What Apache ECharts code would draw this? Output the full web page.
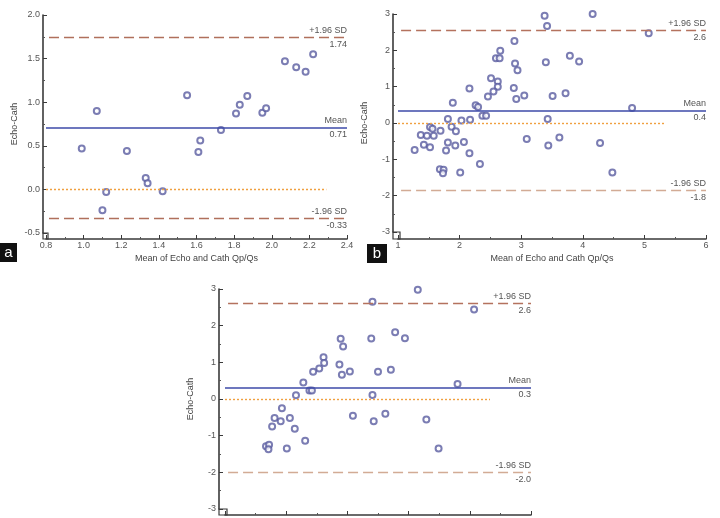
<!DOCTYPE html>
<head>
    <meta charset="utf-8">
    <title>Bland-Altman Echo vs Cath</title>
    <script src="https://cdn.jsdelivr.net/npm/echarts@6/dist/echarts.min.js"></script>
    <style>
        html, body { margin: 0; padding: 0; background: #fff; }
        #main { width: 720px; height: 518px; }
    </style>
</head>
<body>
    <div id="main"></div>
    <script type="text/javascript">
        // panel a: mean of Echo and Cath Qp/Qs vs difference
        var aMean = [0.99, 1.07, 1.10, 1.12, 1.23, 1.33, 1.34, 1.42, 1.55, 1.61, 1.62, 1.73, 1.81, 1.83, 1.87, 1.95, 1.97, 2.07, 2.13, 2.18, 2.22];
        var aDiff = [0.47, 0.90, -0.24, -0.03, 0.44, 0.13, 0.07, -0.02, 1.08, 0.43, 0.56, 0.68, 0.87, 0.97, 1.07, 0.88, 0.93, 1.47, 1.40, 1.35, 1.55];
        // panel b
        var bMean = [3.38, 4.16, 3.42, 5.07, 2.89, 2.66, 2.59, 2.65, 2.90, 2.94, 3.40, 3.79, 3.94, 2.51, 2.62,
                     2.62, 2.55, 2.46, 2.16, 2.88, 2.92, 3.05, 3.51, 3.72, 1.89, 2.26, 2.30, 2.37, 2.43, 4.80,
                     3.43, 2.03, 2.17, 1.81, 1.87, 1.94, 1.52, 1.56, 1.37, 1.47, 1.58, 1.69, 1.42, 1.52, 1.27,
                     1.81, 1.93, 2.07, 1.78, 2.16, 2.33, 1.68, 1.74, 1.73, 2.01, 3.09, 3.44, 3.62, 4.28, 4.48];
        var bDiff = [2.95, 3.00, 2.67, 2.47, 2.26, 1.99, 1.78, 1.78, 1.64, 1.45, 1.67, 1.85, 1.69, 1.23, 1.14,
                     1.00, 0.87, 0.73, 0.95, 0.96, 0.66, 0.76, 0.74, 0.82, 0.56, 0.49, 0.44, 0.20, 0.20, 0.41,
                     0.11, 0.07, 0.09, 0.11, -0.10, -0.23, -0.11, -0.16, -0.33, -0.35, -0.35, -0.21, -0.60, -0.67, -0.74,
                     -0.54, -0.62, -0.52, -0.76, -0.83, -1.13, -1.27, -1.29, -1.38, -1.36, -0.44, -0.62, -0.40, -0.55, -1.36];
        // panel c
        var cMean = [4.15, 3.41, 5.07, 2.89, 2.93, 3.39, 3.78, 3.94, 2.61, 2.62, 2.54, 2.44, 2.87, 2.91, 3.04,
                     3.50, 3.71, 2.28, 2.38, 2.42, 4.80, 3.41, 2.16, 1.93, 1.81, 1.91, 2.06, 1.77, 2.14, 2.31,
                     1.67, 1.72, 1.71, 2.01, 3.09, 3.43, 3.62, 4.29, 4.49];
        var cDiff = [2.98, 2.65, 2.44, 1.64, 1.43, 1.65, 1.82, 1.66, 1.14, 0.98, 0.83, 0.74, 0.94, 0.66, 0.75,
                     0.74, 0.80, 0.45, 0.23, 0.23, 0.41, 0.11, 0.10, -0.25, -0.52, -0.61, -0.52, -0.75, -0.81, -1.14,
                     -1.29, -1.25, -1.37, -1.35, -0.46, -0.61, -0.40, -0.56, -1.35];

        // reference lines: [+1.96 SD, mean, -1.96 SD] and their printed values
        var aLimits = [1.74, 0.71, -0.33];
        var aLimitText = ['1.74', '0.71', '-0.33'];
        var bLimits = [2.55, 0.35, -1.85];
        var bLimitText = ['2.6', '0.4', '-1.8'];
        var cLimits = [2.6, 0.3, -2.0];
        var cLimitText = ['2.6', '0.3', '-2.0'];
        var limitNames = ['+1.96 SD', 'Mean', '-1.96 SD'];
        // where the zero line stops
        var aZeroEnd = 2.29, bZeroEnd = 5.32, cZeroEnd = 5.33;

        var xTitle = 'Mean of Echo and Cath Qp/Qs';
        var yTitle = 'Echo-Cath';

        var grids = [
            { left: 46, top: 15, width: 301, height: 218, outerBoundsMode: 'none' },
            { left: 398, top: 14, width: 308, height: 218, outerBoundsMode: 'none' },
            { left: 225, top: 289, width: 306, height: 220, outerBoundsMode: 'none' }
        ];

        var meanColor = '#3d4aa8', zeroColor = '#f0a040', dotColor = '#5a5ca0';
        var fontFam = 'Liberation Sans, Arial, sans-serif';

        function pairs(xs, ys) {
            var out = [];
            for (var i = 0; i < xs.length; i++) out.push([xs[i], ys[i]]);
            return out;
        }

        // dashColors: [upper, lower]
        function refLines(xMin, xMax, zeroEnd, limits, texts, dashColors) {
            var lines = [];
            for (var i = 0; i < 3; i++) {
                var isMean = i == 1;
                var col = isMean ? meanColor : dashColors[i == 0 ? 0 : 1];
                lines.push([
                    { coord: [isMean ? xMin : xMin + (xMax - xMin) * 0.01, limits[i]],
                      lineStyle: { color: col, width: isMean ? 1.6 : 1.3, type: isMean ? 'solid' : [10, 5] },
                      label: { show: true, position: 'insideEnd', distance: 0,
                               formatter: limitNames[i] + '\n' + texts[i],
                               color: '#555', fontSize: 9, lineHeight: 14, align: 'right',
                               fontFamily: fontFam } },
                    { coord: [xMax, limits[i]] }
                ]);
            }
            lines.push([
                { coord: [xMin, 0], lineStyle: { color: zeroColor, width: 1.4, type: [2, 2], opacity: 1 }, label: { show: false } },
                { coord: [zeroEnd, 0] }
            ]);
            return lines;
        }

        function xAxisOf(idx, min, max, interval, decimals, offset) {
            return {
                gridIndex: idx, type: 'value', min: min, max: max, interval: interval, offset: offset,
                name: xTitle, nameLocation: 'middle', nameGap: 15,
                nameTextStyle: { color: '#444', fontSize: 9, fontFamily: fontFam },
                axisLine: { show: true, onZero: false, lineStyle: { color: '#3a3a3a', width: 1.6 } },
                axisTick: { show: true, inside: true, length: 4, lineStyle: { color: '#3a3a3a' } },
                minorTick: { show: true, splitNumber: 2, length: 2, lineStyle: { color: '#555' } },
                axisLabel: { color: '#555', fontSize: 9, margin: 2, fontFamily: fontFam,
                             formatter: function (v) { return v.toFixed(decimals); } },
                splitLine: { show: false }
            };
        }

        function yAxisOf(idx, min, max, interval, decimals, offset) {
            return {
                gridIndex: idx, type: 'value', min: min, max: max, interval: interval, offset: offset,
                name: yTitle, nameLocation: 'middle', nameGap: 24, nameRotate: 90,
                nameTextStyle: { color: '#444', fontSize: 9, fontFamily: fontFam },
                axisLine: { show: true, onZero: false, lineStyle: { color: '#3a3a3a', width: 1.6 } },
                axisTick: { show: true, inside: true, length: 4, lineStyle: { color: '#3a3a3a' } },
                minorTick: { show: true, splitNumber: 2, length: 2, lineStyle: { color: '#555' } },
                axisLabel: { color: '#555', fontSize: 9, margin: 3, fontFamily: fontFam,
                             formatter: function (v) { return v.toFixed(decimals); } },
                splitLine: { show: false }
            };
        }

        function scatterOf(idx, xs, ys, xMin, xMax, zeroEnd, limits, texts, dashColors) {
            return {
                type: 'scatter', xAxisIndex: idx, yAxisIndex: idx,
                data: pairs(xs, ys),
                symbol: 'emptyCircle', symbolSize: 6,
                itemStyle: { color: dotColor, borderColor: dotColor, borderWidth: 0.8 },
                markLine: { silent: true, symbol: 'none', animation: false, data: refLines(xMin, xMax, zeroEnd, limits, texts, dashColors) },
                animation: false
            };
        }

        // small square at each axis corner and the panel letters
        function cornerBox(g, dx, dy) {
            return { type: 'rect', shape: { x: g.left - dx, y: g.top + g.height, width: dx + 2, height: dy },
                     style: { fill: 'none', stroke: '#3a3a3a', lineWidth: 1.2 } };
        }
        function letter(x, y, w, h, t) {
            return { type: 'group', children: [
                { type: 'rect', shape: { x: x, y: y, width: w, height: h }, style: { fill: '#111' } },
                { type: 'text', x: x + w / 2, y: y + h / 2,
                  style: { text: t, fill: '#fff', font: '15px Liberation Sans', align: 'center', verticalAlign: 'middle' } }
            ] };
        }

        var xc = xAxisOf(2, 1, 6, 1, 0, 6);
        xc.name = ''; // below the bottom edge in the original, cut off

        var myChart = echarts.init(document.getElementById('main'));
        var option = {
            backgroundColor: '#fff',
            grid: grids,
            xAxis: [
                xAxisOf(0, 0.8, 2.4, 0.2, 1, 6),
                xAxisOf(1, 1, 6, 1, 0, 7),
                xc
            ],
            yAxis: [
                yAxisOf(0, -0.5, 2.0, 0.5, 1, 3),
                yAxisOf(1, -3, 3, 1, 0, 5),
                yAxisOf(2, -3, 3, 1, 0, 6)
            ],
            series: [
                scatterOf(0, aMean, aDiff, 0.8, 2.4, aZeroEnd, aLimits, aLimitText, ['#b0705c', '#b0705c']),
                scatterOf(1, bMean, bDiff, 1, 6, bZeroEnd, bLimits, bLimitText, ['#b4725e', '#d2ab95']),
                scatterOf(2, cMean, cDiff, 1, 6, cZeroEnd, cLimits, cLimitText, ['#b4725e', '#d2ab95'])
            ],
            graphic: [
                cornerBox(grids[0], 3, 6),
                cornerBox(grids[1], 5, 7),
                cornerBox(grids[2], 6, 6),
                letter(0, 243, 17, 19, 'a'),
                letter(367, 244, 20, 19, 'b')
            ]
        };
        myChart.setOption(option);
    </script>
</body>
